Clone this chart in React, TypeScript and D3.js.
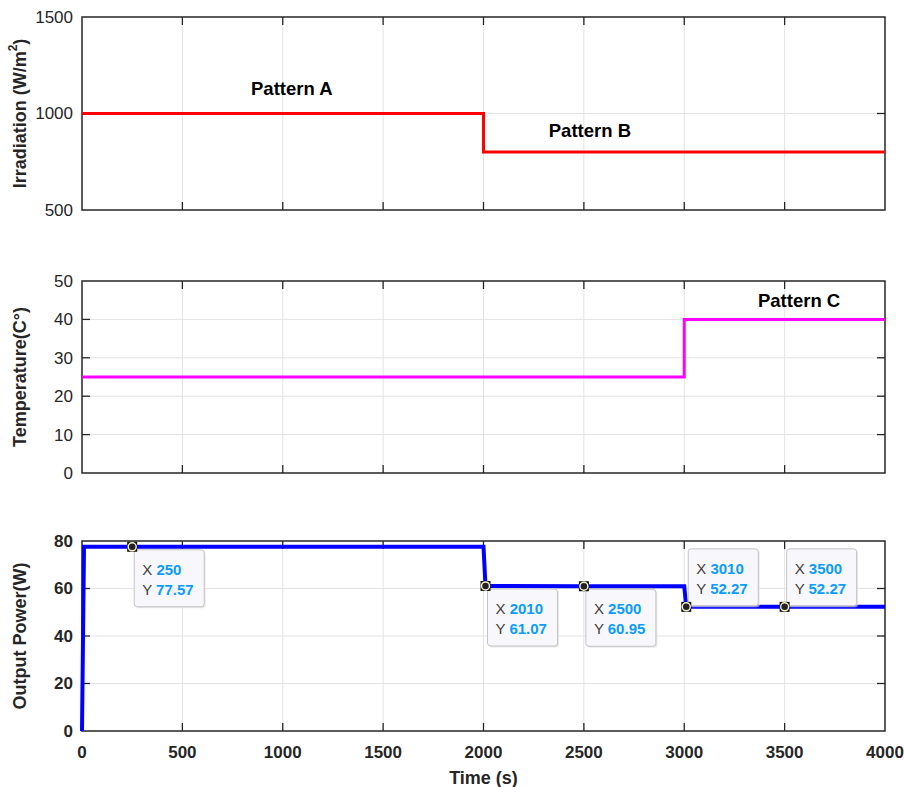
import React, { useEffect, useRef } from "react";
import * as d3 from "d3";

// time axis
const xTicks = [0, 500, 1000, 1500, 2000, 2500, 3000, 3500, 4000];

// irradiation (W/m^2), step profile
const irrTime = [0, 2000, 4000];
const irrValue = [1000, 800, 800];
const irrTicks = [500, 1000, 1500];

// temperature (C), step profile
const tempTime = [0, 3000, 4000];
const tempValue = [25, 40, 40];
const tempTicks = [0, 10, 20, 30, 40, 50];

// output power (W)
const powerTime = [0, 10, 2000, 2010, 2500, 3000, 3010, 3500, 4000];
const powerValue = [0, 77.57, 77.57, 61.07, 60.95, 60.9, 52.27, 52.27, 52.27];
const powerTicks = [0, 20, 40, 60, 80];

// data tips
const tipX = [250, 2010, 2500, 3010, 3500];
const tipY = [77.57, 61.07, 60.95, 52.27, 52.27];

const FONT = "'Liberation Sans', Arial, Helvetica, sans-serif";

export default function App() {
  const svgRef = useRef<SVGSVGElement | null>(null);

  useEffect(() => {
    if (!svgRef.current) return;
    const width = 904;
    const height = 787;
    const left = 82;
    const right = 885;

    const svg = d3.select(svgRef.current);
    svg.selectAll("*").remove();
    svg.attr("width", width).attr("height", height).attr("viewBox", `0 0 ${width} ${height}`);

    svg.append("rect").attr("width", width).attr("height", height).attr("fill", "#fff");

    const x = d3.scaleLinear().domain([0, 4000]).range([left, right]);

    const panel = (
      top: number,
      bottom: number,
      domain: [number, number],
      yTicks: number[],
      label: string,
      boldTicks: boolean,
      showX: boolean
    ) => {
      const y = d3.scaleLinear().domain(domain).range([bottom, top]);
      const g = svg.append("g");

      // grid
      g.selectAll(".vg")
        .data(xTicks.slice(1, -1))
        .join("line")
        .attr("x1", (d) => x(d))
        .attr("x2", (d) => x(d))
        .attr("y1", top)
        .attr("y2", bottom)
        .attr("stroke", "#e3e3e3")
        .attr("stroke-width", 1);
      g.selectAll(".hg")
        .data(yTicks.slice(1, -1))
        .join("line")
        .attr("x1", left)
        .attr("x2", right)
        .attr("y1", (d) => y(d))
        .attr("y2", (d) => y(d))
        .attr("stroke", "#e3e3e3")
        .attr("stroke-width", 1);

      // ticks (inward, all four sides)
      const tl = 8;
      xTicks.slice(1, -1).forEach((t) => {
        g.append("line").attr("x1", x(t)).attr("x2", x(t)).attr("y1", bottom).attr("y2", bottom - tl).attr("stroke", "#262626").attr("stroke-width", 1.3);
        g.append("line").attr("x1", x(t)).attr("x2", x(t)).attr("y1", top).attr("y2", top + tl).attr("stroke", "#262626").attr("stroke-width", 1.3);
      });
      yTicks.slice(1, -1).forEach((t) => {
        g.append("line").attr("x1", left).attr("x2", left + tl).attr("y1", y(t)).attr("y2", y(t)).attr("stroke", "#262626").attr("stroke-width", 1.3);
        g.append("line").attr("x1", right).attr("x2", right - tl).attr("y1", y(t)).attr("y2", y(t)).attr("stroke", "#262626").attr("stroke-width", 1.3);
      });

      // box
      g.append("rect")
        .attr("x", left)
        .attr("y", top)
        .attr("width", right - left)
        .attr("height", bottom - top)
        .attr("fill", "none")
        .attr("stroke", "#262626")
        .attr("stroke-width", 1.5);

      // y tick labels
      g.selectAll(".yl")
        .data(yTicks)
        .join("text")
        .attr("x", 73)
        .attr("y", (d) => y(d))
        .attr("dy", "0.35em")
        .attr("text-anchor", "end")
        .attr("font-family", FONT)
        .attr("font-size", 17)
        .attr("font-weight", boldTicks ? "bold" : "normal")
        .attr("fill", "#262626")
        .text((d) => d);

      if (showX) {
        g.selectAll(".xl")
          .data(xTicks)
          .join("text")
          .attr("x", (d) => x(d))
          .attr("y", bottom + 27)
          .attr("text-anchor", "middle")
          .attr("font-family", FONT)
          .attr("font-size", 17)
          .attr("font-weight", "bold")
          .attr("fill", "#262626")
          .text((d) => d);
      }

      // y label
      const lab = g
        .append("text")
        .attr("transform", `translate(20,${(top + bottom) / 2}) rotate(-90)`)
        .attr("text-anchor", "middle")
        .attr("dominant-baseline", "central")
        .attr("font-family", FONT)
        .attr("font-size", 18)
        .attr("font-weight", "bold")
        .attr("fill", "#262626");
      if (label === "irr") {
        lab.append("tspan").text("Irradiation (W/m");
        lab.append("tspan").attr("dy", -7).attr("font-size", 12).text("2");
        lab.append("tspan").attr("dy", 7).text(")");
      } else {
        lab.text(label);
      }
      return { g, y };
    };

    const p1 = panel(17, 210, [500, 1500], irrTicks, "irr", false, false);
    const p2 = panel(281, 473, [0, 50], tempTicks, "Temperature(C°)", false, false);
    const p3 = panel(541, 731, [0, 80], powerTicks, "Output Power(W)", true, true);

    const stepLine = (y: d3.ScaleLinear<number, number>) =>
      d3
        .line<[number, number]>()
        .x((d) => x(d[0]))
        .y((d) => y(d[1]))
        .curve(d3.curveStepAfter);

    p1.g
      .append("path")
      .datum(irrTime.map((t, i) => [t, irrValue[i]] as [number, number]))
      .attr("fill", "none")
      .attr("stroke", "#ff0000")
      .attr("stroke-width", 3)
      .attr("d", stepLine(p1.y));

    p2.g
      .append("path")
      .datum(tempTime.map((t, i) => [t, tempValue[i]] as [number, number]))
      .attr("fill", "none")
      .attr("stroke", "#ff00ff")
      .attr("stroke-width", 3)
      .attr("d", stepLine(p2.y));

    const powerLine = d3
      .line<[number, number]>()
      .x((d) => x(d[0]))
      .y((d) => p3.y(d[1]));
    p3.g
      .append("path")
      .datum(powerTime.map((t, i) => [t, powerValue[i]] as [number, number]))
      .attr("fill", "none")
      .attr("stroke", "#0000ff")
      .attr("stroke-width", 4)
      .attr("d", powerLine);

    // pattern annotations
    const ann = [
      { g: p1.g, y: p1.y, t: 1045, v: 1127, text: "Pattern A" },
      { g: p1.g, y: p1.y, t: 2530, v: 914, text: "Pattern B" },
      { g: p2.g, y: p2.y, t: 3572, v: 45, text: "Pattern C" },
    ];
    ann.forEach((a) => {
      a.g
        .append("text")
        .attr("x", x(a.t))
        .attr("y", a.y(a.v))
        .attr("dy", "0.35em")
        .attr("text-anchor", "middle")
        .attr("font-family", FONT)
        .attr("font-size", 18.5)
        .attr("font-weight", "bold")
        .attr("fill", "#000")
        .text(a.text);
    });

    // data tips
    const tipG = svg.append("g");
    tipX.forEach((tx, i) => {
      const cx = x(tx);
      const cy = p3.y(tipY[i]);
      const above = i >= 3;
      const bw = 70;
      const bh = 57;
      const bx = cx + 2;
      const by = above ? cy - bh - 1 : cy + 3;
      tipG
        .append("rect")
        .attr("x", bx + 1.5)
        .attr("y", by + 1.5)
        .attr("width", bw)
        .attr("height", bh)
        .attr("rx", 3)
        .attr("fill", "#d8d8d8")
        .attr("opacity", 0.6);
      tipG
        .append("rect")
        .attr("x", bx)
        .attr("y", by)
        .attr("width", bw)
        .attr("height", bh)
        .attr("rx", 3)
        .attr("fill", "#f8f8fc")
        .attr("stroke", "#c4c4c4")
        .attr("stroke-width", 1);
      const lines = [
        ["X", String(tx)],
        ["Y", tipY[i].toFixed(2)],
      ];
      lines.forEach(([k, v], j) => {
        const t = tipG
          .append("text")
          .attr("x", bx + 8)
          .attr("y", by + 25 + j * 20)
          .attr("font-family", FONT)
          .attr("font-size", 15);
        t.append("tspan").attr("fill", "#404040").text(k + " ");
        t.append("tspan").attr("fill", "#0a9cff").attr("font-weight", "bold").text(v);
      });
      tipG
        .append("rect")
        .attr("x", cx - 5)
        .attr("y", cy - 5)
        .attr("width", 10)
        .attr("height", 10)
        .attr("fill", "#111");
      tipG
        .append("circle")
        .attr("cx", cx)
        .attr("cy", cy)
        .attr("r", 4)
        .attr("fill", "#222")
        .attr("stroke", "#f2f2c8")
        .attr("stroke-width", 1.5);
    });

    // x label
    svg
      .append("text")
      .attr("x", (left + right) / 2)
      .attr("y", 784)
      .attr("text-anchor", "middle")
      .attr("font-family", FONT)
      .attr("font-size", 18)
      .attr("font-weight", "bold")
      .attr("fill", "#262626")
      .text("Time (s)");
  }, []);

  return (
    <div style={{ position: "absolute", left: 0, top: 0 }}>
      <svg ref={svgRef} style={{ display: "block" }} />
    </div>
  );
}
